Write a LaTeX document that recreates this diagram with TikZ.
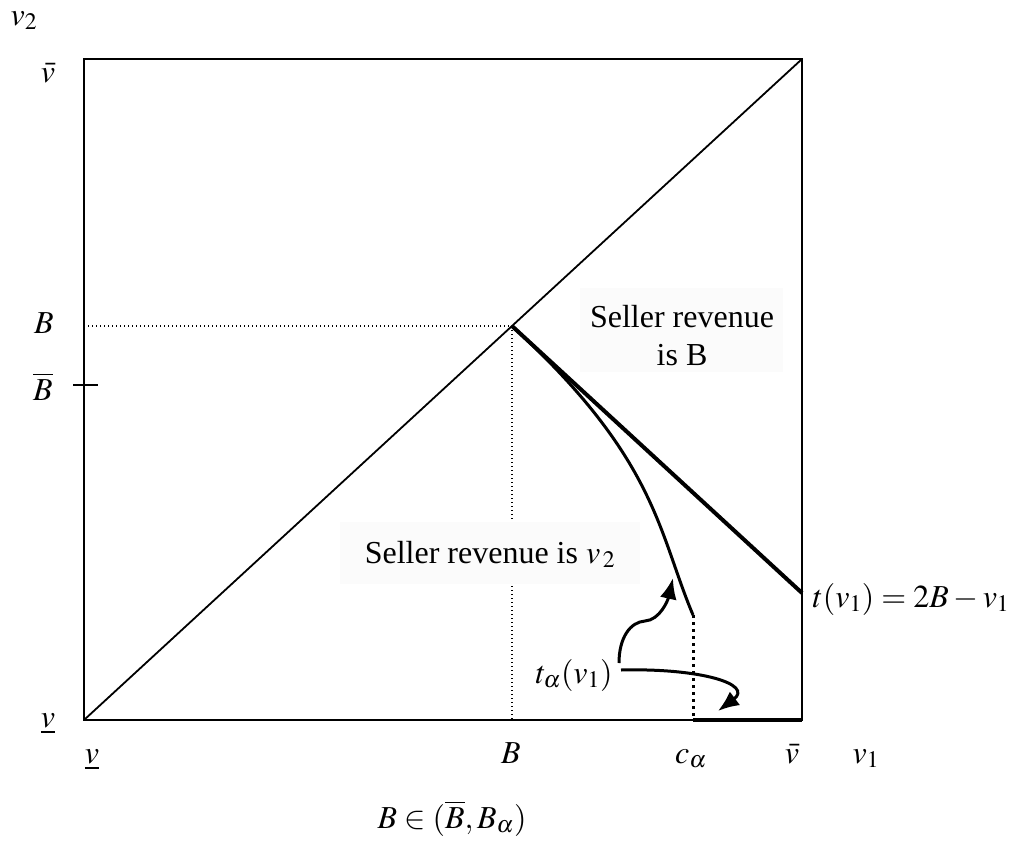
\documentclass[tikz,border=0pt]{standalone}
\usepackage{mathptmx}
\usepackage{fontspec}
\setmainfont{Liberation Serif}
\usetikzlibrary{arrows.meta}
\begin{document}
\begin{tikzpicture}[x=1pt,y=-1pt,
  lbl/.style={anchor=base,inner sep=0pt,font=\fontsize{32}{38}\selectfont},
  frame/.style={line width=2pt},
  thinline/.style={line width=1.8pt},
  thickline/.style={line width=4pt},
  curveline/.style={line width=3pt},
  dotthin/.style={line width=1.4pt,dash pattern=on 1.4pt off 2.6pt},
  dotthick/.style={line width=3pt,dash pattern=on 3pt off 4pt},
  arr/.style={line width=3pt,-{Latex[length=21pt,width=17pt]}},
  shade/.style={fill=black!1.5,draw=none}]
\useasboundingbox (0,0) rectangle (1015,849);
% corners
\coordinate (O) at (84,720);
\coordinate (TL) at (84,59);
\coordinate (TR) at (802,59);
\coordinate (BR) at (802,720);
\coordinate (P) at (512,326);
\coordinate (PL) at (84,326);
\coordinate (PB) at (512,720);
\coordinate (Q) at (802,593);
\coordinate (C) at (693,615);
\coordinate (CB) at (693,720);
\coordinate (TkL) at (73,385);
\coordinate (TkR) at (98,385);
% frame and diagonal
\draw[frame] (TL) rectangle (BR);
\draw[thinline] (O) -- (TR);
\draw[frame] (TkL) -- (TkR);
% dotted guides
\draw[dotthin] (PL) -- (P);
\draw[dotthin] (P) -- (PB);
\draw[dotthick] (C) -- (CB);
% thick lines
\draw[thickline] (P) -- (Q);
\draw[thickline] (CB) -- (BR);
% t_alpha curve
\draw[curveline] (P) .. controls (657,459) and (658,532) .. (C);
% shaded text boxes
\fill[shade] (580,288) rectangle (783,372);
\fill[shade] (340,522) rectangle (640,584);
% labels
\node[lbl] (v2) at (24,25) {$v_2$};
\node[lbl] (vbarL) at (48,82) {$\bar{v}$};
\node[lbl] (BL) at (44,333) {$B$};
\node[lbl] (BbarL) at (43,400) {$\overline{B}$};
\node[lbl] (vlowL) at (48,727) {$\underline{v}$};
\node[lbl] (vlowB) at (92,763) {$\underline{v}$};
\node[lbl] (BB) at (511,763) {$B$};
\node[lbl] (ca) at (691,763) {$c_{\alpha}$};
\node[lbl] (vbarB) at (792,763) {$\bar{v}$};
\node[lbl] (v1) at (866,763) {$v_1$};
\node[lbl] (cond) at (452,828) {$B\in(\overline{B},B_{\alpha})$};
\node[lbl] (tfun) at (911,607) {$t(v_1)=2B-v_1$};
\node[lbl] (talpha) at (574,683) {$t_{\alpha}(v_1)$};
\node[lbl] (revB) at (682,327) {Seller revenue};
\node[lbl] (revB2) at (682,365) {is B};
\node[lbl] (revv) at (490,563) {Seller revenue is $v_{\,2}$};
% arrows
\coordinate (A1s) at (619,663);
\coordinate (A1t) at (673,578);
\coordinate (A2s) at (621,670);
\coordinate (A2t) at (718,711);
\draw[arr] (A1s) .. controls (619,638) and (630,622) .. (645,621) .. controls (660,620) and (668,600) .. (A1t);
\draw[arr] (A2s) .. controls (700,668) and (754,684) .. (A2t);
\end{tikzpicture}
\end{document}
